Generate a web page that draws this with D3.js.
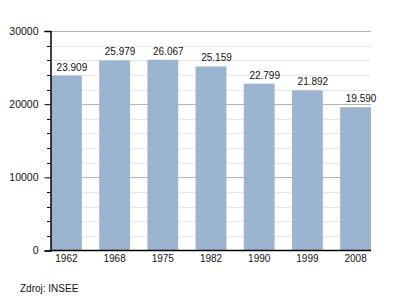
<!DOCTYPE html>
<html>
<head>
<meta charset="utf-8">
<script src="https://cdn.jsdelivr.net/npm/d3@7"></script>
<style>
  body { margin: 0; background: #fff; }
  text { font-family: "Liberation Sans", Arial, sans-serif; }
</style>
</head>
<body>
<div id="chart"></div>
<script>
var years = ['1962', '1968', '1975', '1982', '1990', '1999', '2008'];
var population = [23909, 25979, 26067, 25159, 22799, 21892, 19590];
var valueLabels = ['23.909', '25.979', '26.067', '25.159', '22.799', '21.892', '19.590'];
var majorTicks = [0, 10000, 20000, 30000];
var minorTicks = [2000, 4000, 6000, 8000, 12000, 14000, 16000, 18000, 22000, 24000, 26000, 28000];
var source = 'Zdroj: INSEE';

var width = 400;
var height = 300;
var margin = { top: 31, left: 50, right: 29, bottom: 50 };

var svg = d3.select('#chart')
  .append('svg')
  .attr('width', width)
  .attr('height', height);

var x = d3.scaleBand()
  .domain(years)
  .range([margin.left + 1, width - margin.right])
  .paddingInner(0.36)
  .paddingOuter(0);

var y = d3.scaleLinear()
  .domain([0, 30000])
  .range([height - margin.bottom + 0.5, margin.top]);

// minor gridlines
svg.append('g')
  .selectAll('line')
  .data(minorTicks)
  .enter().append('line')
  .attr('x1', margin.left)
  .attr('x2', width - margin.right)
  .attr('y1', function(d) { return Math.round(y(d)) + 0.5; })
  .attr('y2', function(d) { return Math.round(y(d)) + 0.5; })
  .attr('stroke', '#e6e6e6');

// major gridlines
svg.append('g')
  .selectAll('line')
  .data(majorTicks.slice(1))
  .enter().append('line')
  .attr('x1', margin.left)
  .attr('x2', width - margin.right)
  .attr('y1', function(d) { return Math.round(y(d)) + 0.5; })
  .attr('y2', function(d) { return Math.round(y(d)) + 0.5; })
  .attr('stroke', '#b4b4b4');

// bars
svg.append('g')
  .selectAll('rect')
  .data(population)
  .enter().append('rect')
  .attr('x', function(d, i) { return x(years[i]); })
  .attr('width', x.bandwidth())
  .attr('y', function(d) { return y(d); })
  .attr('height', function(d) { return y(0) - y(d); })
  .attr('fill', '#9bb4d0');

// value labels (sit a bit right of bar centre, like the original)
svg.append('g')
  .selectAll('text')
  .data(population)
  .enter().append('text')
  .attr('x', function(d, i) { return x(years[i]) + x.bandwidth() / 2 + 5.5; })
  .attr('y', function(d) { return y(d) - 5; })
  .attr('text-anchor', 'middle')
  .style('font-size', '10px')
  .attr('fill', '#111')
  .text(function(d, i) { return valueLabels[i]; });

// y axis
var yAxis = d3.axisLeft(y)
  .tickValues(majorTicks)
  .tickSize(6)
  .tickPadding(6)
  .tickFormat(d3.format('d'));

var gy = svg.append('g')
  .attr('transform', 'translate(' + (margin.left + 0.5) + ',0)')
  .call(yAxis);
gy.select('.domain').attr('stroke', '#000').attr('stroke-width', 1.5);
gy.selectAll('.tick line').attr('stroke', '#000');
gy.selectAll('.tick text')
  .style('font-size', '10.5px')
  .style('font-family', '"Liberation Sans", Arial, sans-serif')
  .attr('fill', '#111');

svg.append('g')
  .selectAll('line')
  .data(minorTicks)
  .enter().append('line')
  .attr('x1', margin.left - 3)
  .attr('x2', margin.left)
  .attr('y1', function(d) { return Math.round(y(d)) + 0.5; })
  .attr('y2', function(d) { return Math.round(y(d)) + 0.5; })
  .attr('stroke', '#000');

// x axis
var xAxis = d3.axisBottom(x)
  .tickSize(0)
  .tickPadding(4);

var gx = svg.append('g')
  .attr('transform', 'translate(0,' + (height - margin.bottom + 0.5) + ')')
  .call(xAxis);
gx.select('.domain').remove();
gx.selectAll('.tick text')
  .style('font-size', '10px')
  .style('font-family', '"Liberation Sans", Arial, sans-serif')
  .attr('fill', '#111');

svg.append('line')
  .attr('x1', margin.left - 0.5)
  .attr('x2', width - margin.right)
  .attr('y1', y(0))
  .attr('y2', y(0))
  .attr('stroke', '#000')
  .attr('stroke-width', 1.5);

svg.append('text')
  .attr('x', 20)
  .attr('y', 292)
  .style('font-size', '10px')
  .attr('fill', '#111')
  .text(source);
</script>
</body>
</html>
